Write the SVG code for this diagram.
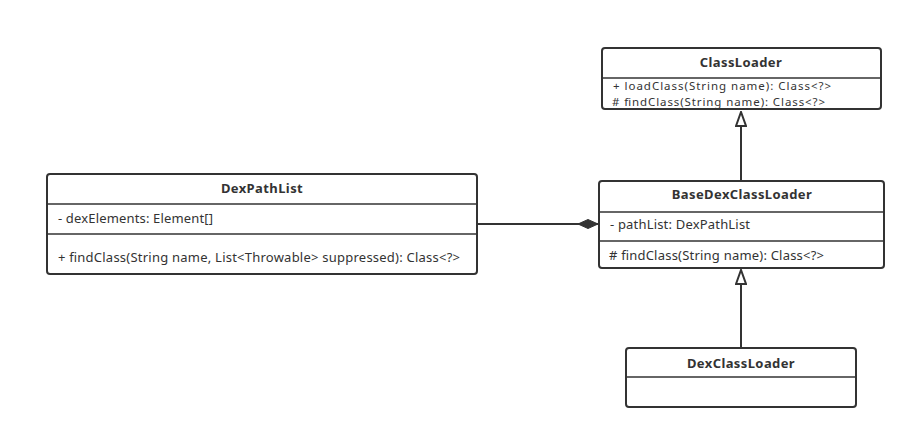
<svg xmlns="http://www.w3.org/2000/svg" width="915" height="440" viewBox="0 0 915 440">
<style>
.box{fill:#fff;stroke:#333;stroke-width:2}
.sep{stroke:#333;stroke-width:1.5}
.t{font-family:"Noto Sans","DejaVu Sans",sans-serif;font-size:13px;fill:#333}
.s{font-size:11.5px}
.b{font-weight:bold;text-anchor:middle;letter-spacing:0.4px}
.line{stroke:#333;stroke-width:2;fill:none}
</style>
<defs>
<marker id="tri" viewBox="0 0 16 12" refX="15" refY="6" markerWidth="16" markerHeight="12" markerUnits="userSpaceOnUse" orient="auto">
<path d="M1,1 L15,6 L1,11 Z" fill="#fff" stroke="#333" stroke-width="2"/>
</marker>
<marker id="dia" viewBox="0 0 22 12" refX="21" refY="6" markerWidth="22" markerHeight="12" markerUnits="userSpaceOnUse" orient="auto">
<path d="M1,6 L11,1.5 L21,6 L11,10.5 Z" fill="#333" stroke="#333" stroke-width="1"/>
</marker>
</defs>
<g id="connectors">
<line class="line" x1="741" y1="181" x2="741" y2="112" marker-end="url(#tri)"/>
<line class="line" x1="741" y1="348" x2="741" y2="270" marker-end="url(#tri)"/>
<line class="line" x1="477" y1="224" x2="598" y2="224" marker-end="url(#dia)"/>
</g>
<g id="ClassLoader">
<rect class="box" x="602" y="48" width="279" height="61" rx="3"/>
<line class="sep" x1="602" y1="78" x2="881" y2="78"/>
<text class="t b" x="741" y="67">ClassLoader</text>
<text class="t s" x="613" y="90" textLength="218" lengthAdjust="spacing">+ loadClass(String name): Class&lt;?&gt;</text>
<text class="t s" x="612" y="106" textLength="213" lengthAdjust="spacing"># findClass(String name): Class&lt;?&gt;</text>
</g>
<g id="BaseDexClassLoader">
<rect class="box" x="599" y="181" width="285" height="87" rx="3"/>
<line class="sep" x1="599" y1="212" x2="884" y2="212"/>
<line class="sep" x1="599" y1="241" x2="884" y2="241"/>
<text class="t b" x="742" y="199">BaseDexClassLoader</text>
<text class="t" x="610" y="229" textLength="140" lengthAdjust="spacing">- pathList: DexPathList</text>
<text class="t" x="609" y="260" textLength="215" lengthAdjust="spacing"># findClass(String name): Class&lt;?&gt;</text>
</g>
<g id="DexPathList">
<rect class="box" x="47" y="174" width="430" height="100" rx="3"/>
<line class="sep" x1="47" y1="204" x2="477" y2="204"/>
<line class="sep" x1="47" y1="234" x2="477" y2="234"/>
<text class="t b" x="262" y="193">DexPathList</text>
<text class="t" x="58" y="223" textLength="155" lengthAdjust="spacing">- dexElements: Element[]</text>
<text class="t" x="58" y="262" textLength="402" lengthAdjust="spacing">+ findClass(String name, List&lt;Throwable&gt; suppressed): Class&lt;?&gt;</text>
</g>
<g id="DexClassLoader">
<rect class="box" x="626" y="348" width="230" height="59" rx="3"/>
<line class="sep" x1="626" y1="377" x2="856" y2="377"/>
<text class="t b" x="741" y="368">DexClassLoader</text>
</g>
</svg>
